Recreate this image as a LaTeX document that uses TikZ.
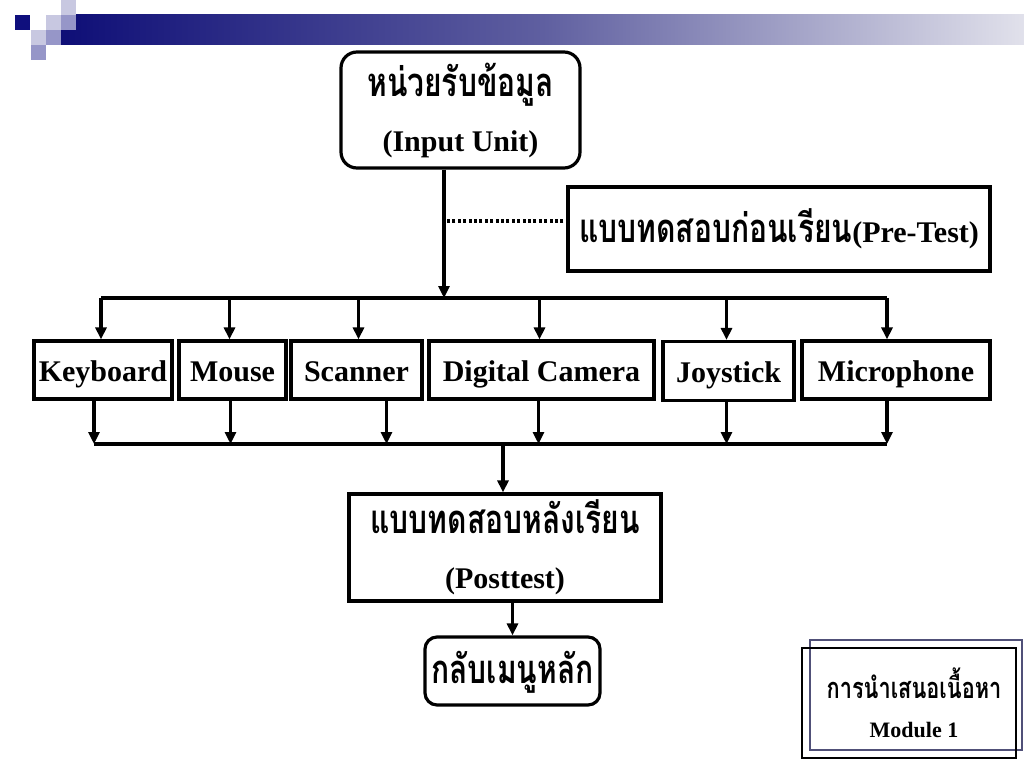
\documentclass[tikz,border=0pt]{standalone}
\usepackage{fontspec}
\setmainfont{Liberation Serif}
\newfontfamily\thai[Script=Thai,FakeStretch=0.75]{Loma}
\usetikzlibrary{arrows.meta}
\definecolor{navy}{RGB}{15,15,125}
\definecolor{lav}{RGB}{200,200,225}
\definecolor{midlav}{RGB}{150,150,200}
\definecolor{barend}{RGB}{225,225,235}
\definecolor{barmid}{RGB}{95,95,160}
\definecolor{framec}{RGB}{80,80,120}
\newcommand{\thtxt}[1]{{\thai\fontsize{40}{55}\selectfont #1}}
\begin{document}
\begin{tikzpicture}[x=1pt,y=-1pt,
  boxn/.style={draw=black,line width=3.2pt,fill=white,inner sep=0pt,align=center,
    font=\bfseries\fontsize{30}{55}\selectfont},
  one/.style={text height=28pt,text depth=6pt},
  rbox/.style={boxn,rounded corners=16pt},
  link/.style={line width=3.2pt},
  arr/.style={link,-{Triangle[length=12pt,width=11pt]}}]
\useasboundingbox (0,0) rectangle (1024,768);
% header decoration
\shade[left color=navy!95!black,right color=barend,middle color=barmid,shading angle=90] (61,15) rectangle (1024,45);
\fill[navy] (15,15) rectangle (30,30);
\fill[lav] (46,15) rectangle (61,30);
\fill[midlav] (61,15) rectangle (76,30);
\fill[lav] (61,0) rectangle (76,15);
\fill[lav] (31,30) rectangle (46,45);
\fill[midlav] (46,30) rectangle (61,45);
\fill[midlav] (31,45) rectangle (46,60);
% main boxes
\node[rbox,minimum width=239pt,minimum height=116pt] (inp) at (460.5,110)
  {\thtxt{หน่วยรับข้อมูล}\\(Input Unit)};
\node[boxn,text height=32pt,text depth=6pt,minimum width=422pt,minimum height=84pt] (pre) at (779,229)
  {\thtxt{แบบทดสอบก่อนเรียน}(Pre-Test)};
\node[boxn,one,minimum width=138pt,minimum height=58pt] (kb) at (103,370) {Keyboard};
\node[boxn,one,minimum width=107pt,minimum height=58pt] (mouse) at (232.5,370) {Mouse};
\node[boxn,one,minimum width=131pt,minimum height=58pt] (scan) at (356.5,370) {Scanner};
\node[boxn,one,minimum width=225pt,minimum height=58pt] (cam) at (541.5,370) {Digital Camera};
\node[boxn,one,minimum width=131pt,minimum height=59pt] (joy) at (728.5,371) {Joystick};
\node[boxn,one,minimum width=188pt,minimum height=58pt] (mic) at (896,370) {Microphone};
\node[boxn,minimum width=312pt,minimum height=107pt] (post) at (505,547.5)
  {\thtxt{แบบทดสอบหลังเรียน}\\(Posttest)};
\node[rbox,text height=30pt,text depth=6pt,rounded corners=12pt,minimum width=175pt,minimum height=68pt] (back) at (512.5,671)
  {\thtxt{กลับเมนูหลัก}};
% connectors
\coordinate (bus1) at (444,298);
\coordinate (busL) at (101,298);
\coordinate (busR) at (887,298);
\coordinate (bus2L) at (94,444);
\coordinate (bus2R) at (887,444);
\draw[arr] (bus1 |- inp.south) -- (bus1);
\draw[line width=3.2pt,dash pattern=on 3pt off 2.4pt] ([yshift=8pt,xshift=-3pt]pre.west) -- ([yshift=8pt,xshift=2pt]bus1 |- pre.west);
\draw[link] (busL) -- (busR);
\draw[arr] ([xshift=-2pt]kb.north |- busL) -- ([xshift=-2pt]kb.north);
\draw[arr] ([xshift=-3pt]mouse.north |- busL) -- ([xshift=-3pt]mouse.north);
\draw[arr] ([xshift=2pt]scan.north |- busL) -- ([xshift=2pt]scan.north);
\draw[arr] ([xshift=-2pt]cam.north |- busL) -- ([xshift=-2pt]cam.north);
\draw[arr] ([xshift=-2pt]joy.north |- busL) -- ([xshift=-2pt]joy.north);
\draw[arr] (busR) -- (busR |- mic.north);
\draw[link] (bus2L) -- (bus2R);
\draw[arr] (bus2L |- kb.south) -- (bus2L);
\draw[arr] ([xshift=-2pt]mouse.south) -- ([xshift=-2pt]mouse.south |- bus2L);
\draw[arr] ([xshift=30pt]scan.south) -- ([xshift=30pt]scan.south |- bus2L);
\draw[arr] ([xshift=-3pt]cam.south) -- ([xshift=-3pt]cam.south |- bus2L);
\draw[arr] ([xshift=-2pt]joy.south) -- ([xshift=-2pt]joy.south |- bus2L);
\draw[arr] (bus2R |- mic.south) -- (bus2R);
\draw[arr] ([xshift=-2pt]post.north |- bus2L) -- ([xshift=-2pt]post.north);
\draw[arr] (back.north |- post.south) -- (back.north);
% bottom-right frame
\draw[framec,line width=1.2pt] (810,640) rectangle (1022,750);
\draw[black,line width=1.2pt] (802,648) rectangle (1016,758);
\node[align=center,inner sep=0pt,font=\bfseries\fontsize{22}{39}\selectfont] (mod) at (914,703)
  {{\thai\fontsize{29}{39}\selectfont การนำเสนอเนื้อหา}\\Module 1};
\end{tikzpicture}
\end{document}
